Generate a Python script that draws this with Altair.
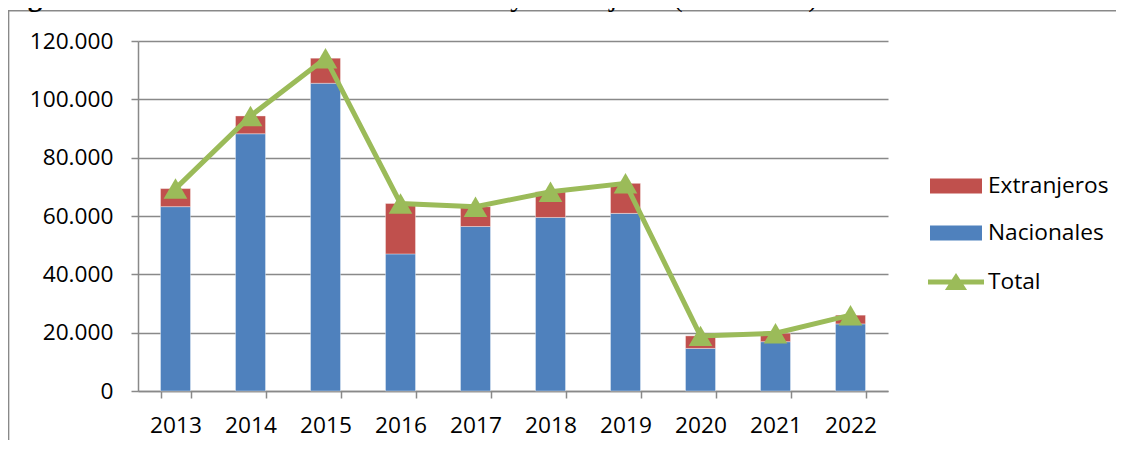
import altair as alt
import pandas as pd

# ---- data ----
years = ["2013", "2014", "2015", "2016", "2017", "2018", "2019", "2020", "2021", "2022"]
nacionales = [63200, 88200, 105500, 47000, 56400, 59500, 60900, 14600, 16900, 23000]
extranjeros = [6200, 6100, 8600, 17300, 6800, 8800, 10300, 4300, 2900, 3000]
total = [n + e for n, e in zip(nacionales, extranjeros)]
y_ticks = [0, 20000, 40000, 60000, 80000, 100000, 120000]

title_bold = "Figura 2:"
title_rest = "Visitantes Anuales Nacionales y Extranjeros (2013-2022)"

bars_df = pd.DataFrame({
    "year": years * 2,
    "serie": ["Nacionales"] * len(years) + ["Extranjeros"] * len(years),
    "valor": nacionales + extranjeros,
    "orden": [0] * len(years) + [1] * len(years),
})
tot_df = pd.DataFrame({"year": years, "valor": total, "serie": ["Total"] * len(years)})

# ---- style ----
W, H = 750, 350
PAD_B = 49
GRAY = "#898989"
BLUE = "#4F81BD"
RED = "#C0504D"
GREEN = "#9BBB59"
FONT = "Open Sans"
FS = 22.7

xscale = alt.Scale(domain=years, paddingInner=0.6, paddingOuter=0.3)
yscale = alt.Scale(domain=[0, 120000], nice=False)

x_axis = alt.Axis(
    title=None, labelAngle=0, tickBand="extent", tickSize=7, labelPadding=16,
    domainColor=GRAY, tickColor=GRAY, domainWidth=1.5, tickWidth=1.5,
    labelFont=FONT, labelFontSize=FS, labelColor="black", grid=False,
)
y_axis = alt.Axis(
    title=None, values=y_ticks,
    labelExpr="replace(format(datum.value, ','), ',', '.')",
    tickSize=7, labelPadding=18, grid=True, gridColor=GRAY, gridWidth=1.5,
    domainColor=GRAY, tickColor=GRAY, domainWidth=1.5, tickWidth=1.5,
    labelFont=FONT, labelFontSize=FS, labelColor="black",
)

bars = alt.Chart(bars_df).mark_bar(stroke="white", strokeWidth=0.6, strokeOpacity=0.6).encode(
    x=alt.X("year:N", scale=xscale, axis=x_axis),
    y=alt.Y("valor:Q", scale=yscale, axis=y_axis, stack="zero"),
    color=alt.Color(
        "serie:N",
        scale=alt.Scale(domain=["Extranjeros", "Nacionales"], range=[RED, BLUE]),
        legend=alt.Legend(
            title=None, orient="none", legendX=805, legendY=132, padding=0,
            symbolType="M-2,-0.577H2V0.577H-2Z", symbolSize=676,
            symbolStrokeWidth=0, labelOffset=19, rowPadding=22,
            labelFont=FONT, labelFontSize=FS, labelColor="black",
        ),
    ),
    order=alt.Order("orden:Q"),
)

line = alt.Chart(tot_df).mark_line(color=GREEN, strokeWidth=5).encode(
    x=alt.X("year:N"),
    y=alt.Y("valor:Q"),
)

points = alt.Chart(tot_df).mark_point(shape="triangle-up", filled=True, size=560, opacity=1).encode(
    x=alt.X("year:N"),
    y=alt.Y("valor:Q"),
    fill=alt.Fill(
        "serie:N",
        scale=alt.Scale(domain=["Total"], range=[GREEN]),
        legend=alt.Legend(
            title=None, orient="none", legendX=804, legendY=227, padding=0,
            symbolType="M-2,-0.18H2V0.18H-2Z M-0.79,0.57L0,-0.64L0.79,0.57Z",
            symbolSize=784, symbolStrokeWidth=0, symbolOpacity=1, labelOffset=18,
            labelFont=FONT, labelFontSize=FS, labelColor="black",
        ),
    ),
)

one = alt.Data(values=[{}])
frame_top = alt.Chart(one).mark_rule(color=GRAY, strokeWidth=1.5).encode(
    x=alt.value(-130), x2=alt.value(W + 228), y=alt.value(-30.3)
)
frame_left = alt.Chart(one).mark_rule(color=GRAY, strokeWidth=1.5).encode(
    x=alt.value(-129.4), y=alt.value(-30.3), y2=alt.value(H + PAD_B)
)
t1 = alt.Chart(one).mark_text(
    text=title_bold, font="Liberation Serif", fontWeight="bold", fontSize=29,
    align="left", baseline="alphabetic", color="black",
).encode(x=alt.value(-136), y=alt.value(-35))
t2 = alt.Chart(one).mark_text(
    text=title_rest, font="Liberation Serif", fontSize=29,
    align="left", baseline="alphabetic", color="black",
).encode(x=alt.value(14), y=alt.value(-35))

chart = alt.layer(bars, line, points, frame_top, frame_left, t1, t2).properties(
    width=W, height=H,
    padding={"left": 130, "top": 33, "right": 228, "bottom": PAD_B},
    autosize=alt.AutoSizeParams(type="none"),
).configure_view(stroke=None).resolve_scale(color="independent")

chart.save("out.html", embed_options={"renderer": "svg", "actions": False})
